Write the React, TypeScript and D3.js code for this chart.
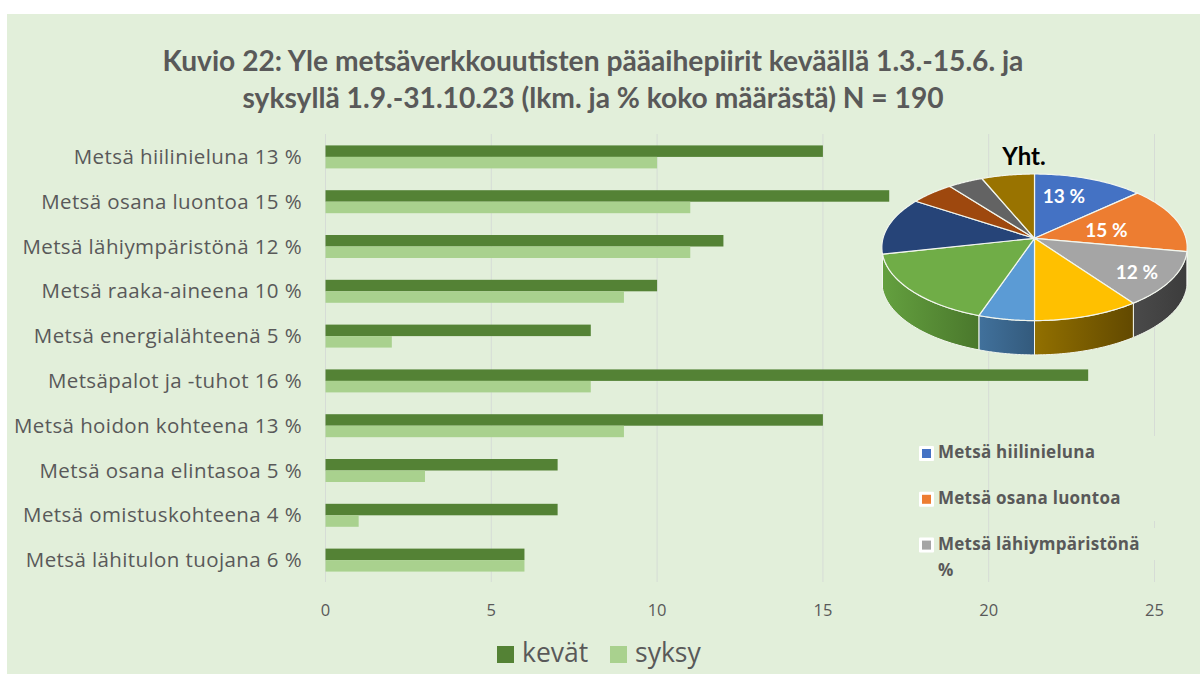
import React from "react";
import * as d3 from "d3";

const titleLines = [
  "Kuvio 22: Yle metsäverkkouutisten pääaihepiirit keväällä 1.3.-15.6. ja",
  "syksyllä 1.9.-31.10.23 (lkm. ja % koko määrästä) N = 190",
];
const categories = [
  "Metsä hiilinieluna 13 %",
  "Metsä osana luontoa 15 %",
  "Metsä lähiympäristönä 12 %",
  "Metsä raaka-aineena 10 %",
  "Metsä energialähteenä 5 %",
  "Metsäpalot ja -tuhot 16 %",
  "Metsä hoidon kohteena 13 %",
  "Metsä osana elintasoa 5 %",
  "Metsä omistuskohteena 4 %",
  "Metsä lähitulon tuojana 6 %",
];
const kevat = [15, 17, 12, 10, 8, 23, 15, 7, 7, 6];
const syksy = [10, 11, 11, 9, 2, 8, 9, 3, 1, 6];
const seriesNames = ["kevät", "syksy"];
const seriesColors = ["#548235", "#a9d18e"];
const pieValues = [25, 28, 23, 19, 10, 31, 24, 10, 8, 12];
const pieColors = ["#4472c4", "#ed7d31", "#a5a5a5", "#ffc000", "#5b9bd5", "#70ad47", "#264478", "#9e480e", "#636363", "#997300"];
const wallColors: Record<number, [string, string]> = {
  2: ["#4a4a4a", "#3c3c3c"],
  3: ["#927000", "#624900"],
  4: ["#41719c", "#335a7c"],
  5: ["#64a03f", "#4a782c"],
};
const pieLabels: [number, string][] = [[0, "13 %"], [1, "15 %"], [2, "12 %"]];
const pieLegend = ["Metsä hiilinieluna", "Metsä osana luontoa", "Metsä lähiympäristönä"];

const BG = "#e2efda";
const TXT = "#595959";
const GRID = "#d6dcd6";
const labelNudge: [number, number][] = [[-8, -1], [-22, 5], [14, 8]];

const x = d3.scaleLinear().domain([0, 25]).range([325.5, 1154.5]);
const y0 = d3.scaleBand<number>().domain(d3.range(categories.length)).range([134.5, 582.5]).paddingInner(0.487).paddingOuter(0.2435);
const y1 = d3.scaleBand<number>().domain([0, 1]).range([0, y0.bandwidth()]);

// perspective projection of the pie's top face
const PX = 1034.5, PY = 238.3, K = 0.1228, RA = 72.2, RB = 151.5, DEPTH = 34.3;
const project = (a: number, r = 1): [number, number] => {
  const u = Math.sin(a) * r, v = -Math.cos(a) * r;
  const d = 1 - K * v;
  return [PX + (RB * u) / d, PY + (RA * v) / d];
};
const arcs = d3.pie<number>().sort(null)(pieValues);
const line = d3.line();
const sample = (a0: number, a1: number) => d3.range(0, 41).map((i) => project(a0 + ((a1 - a0) * i) / 40));
const topPath = (a0: number, a1: number) => line([[PX, PY], ...sample(a0, a1), [PX, PY]]) as string;
const wallPath = (a0: number, a1: number) => {
  const t = sample(a0, a1);
  const b = t.slice().reverse().map(([px, py]) => [px, py + DEPTH] as [number, number]);
  return (line([...t, ...b]) as string) + "Z";
};

export default function App() {
  const rows = categories.map((c, i) => ({ c, i, vals: [kevat[i], syksy[i]] }));
  return (
    <svg width={1200} height={675} style={{ position: "fixed", left: 0, top: 0, background: "#fff" }}>
      <defs>
        {Object.entries(wallColors).map(([k, [a, b]]) => (
          <linearGradient key={k} id={`wall${k}`} x1="0" x2="1" y1="0" y2="0">
            <stop offset="0" stopColor={a} />
            <stop offset="1" stopColor={b} />
          </linearGradient>
        ))}
      </defs>
      <rect x={7} y={14} width={1193} height={660} fill={BG} />
      <g fontFamily="Lato" fontWeight={700} fontSize={28.2} fill={TXT} textAnchor="middle">
        {titleLines.map((t, i) => (
          <text key={i} x={593} y={70.5 + i * 37.5}>{t}</text>
        ))}
      </g>
      {x.ticks(5).map((t) => (
        <g key={t}>
          <line x1={x(t)} x2={x(t)} y1={134} y2={582} stroke={GRID} strokeWidth={1} />
          <text x={x(t)} y={616} textAnchor="middle" fontFamily="Open Sans" fontSize={16.5} fill={TXT}>{t}</text>
        </g>
      ))}
      <rect x={1150} y={436} width={9} height={85} fill={BG} />
      <rect x={1150} y={528} width={9} height={32} fill={BG} />
      {rows.map(({ c, i, vals }) => (
        <g key={c}>
          <text x={302} y={(y0(i) as number) + y0.bandwidth() / 2 + 7} textAnchor="end" fontFamily="Open Sans" fontSize={20.5} letterSpacing={0.4} fill={TXT}>{c}</text>
          {vals.map((v, s) => (
            <rect key={s} x={x(0)} y={(y0(i) as number) + (y1(s) as number)} width={x(v) - x(0)} height={y1.bandwidth()} fill={seriesColors[s]} />
          ))}
        </g>
      ))}
      {arcs.map((a, i) => {
        const lo = Math.max(a.startAngle, (100 * Math.PI) / 180);
        const hi = Math.min(a.endAngle, (258 * Math.PI) / 180);
        return hi > lo ? <path key={i} d={wallPath(lo, hi)} fill={`url(#wall${i})`} stroke="#f2f6ee" strokeWidth={1} /> : null;
      })}
      {arcs.map((a, i) => (
        <path key={i} d={topPath(a.startAngle, a.endAngle)} fill={pieColors[i]} stroke="#f2f6ee" strokeWidth={1.2} strokeLinejoin="round" />
      ))}
      {pieLabels.map(([i, t], n) => {
        const m = (arcs[i].startAngle + arcs[i].endAngle) / 2;
        const [lx, ly] = project(m, 0.66);
        return (
          <text key={i} x={lx + labelNudge[n][0]} y={ly + 6.5 + labelNudge[n][1]} textAnchor="middle" fontFamily="Lato" fontWeight={700} fontSize={19} fill="#fff">{t}</text>
        );
      })}
      <text x={1024} y={165} textAnchor="middle" fontFamily="Lato" fontWeight={700} fontSize={24} fill="#000">Yht.</text>
      {pieLegend.map((t, i) => (
        <g key={t}>
          <rect x={919} y={446 + i * 45.8} width={15} height={15} fill="#fff" rx={1} />
          <rect x={922} y={449 + i * 45.8} width={9} height={9} fill={pieColors[i]} />
          <text x={938} y={458 + i * 45.8} fontFamily="Open Sans" fontWeight={700} fontSize={17} letterSpacing={0.25} fill={TXT}>{t}</text>
        </g>
      ))}
      <text x={938} y={576} fontFamily="Open Sans" fontWeight={700} fontSize={17} fill={TXT}>%</text>
      {seriesNames.map((n, i) => {
        const sx = [497, 610][i];
        return (
          <g key={n}>
            <rect x={sx} y={646} width={17} height={17} fill={seriesColors[i]} />
            <text x={sx + 25} y={662} fontFamily="Open Sans" fontSize={26.5} fill={TXT}>{n}</text>
          </g>
        );
      })}
    </svg>
  );
}
